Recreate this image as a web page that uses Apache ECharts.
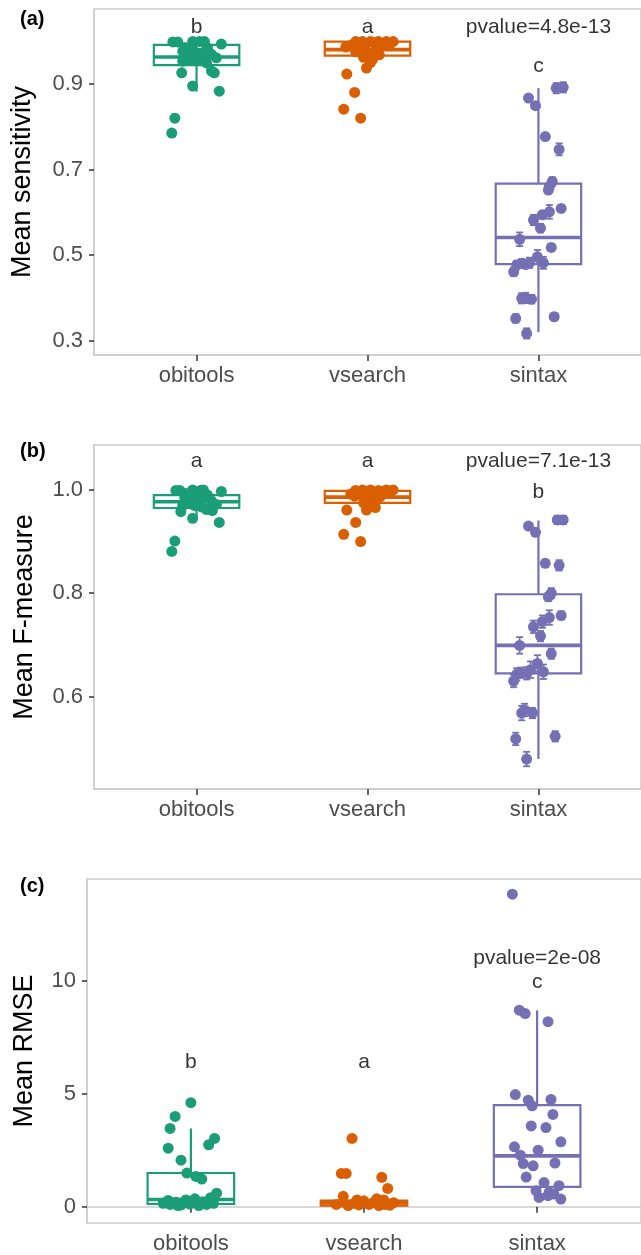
<!DOCTYPE html>
<html>
<head>
<meta charset="utf-8">
<script src="https://cdn.jsdelivr.net/npm/echarts@6/dist/echarts.min.js"></script>
<style>
html,body{margin:0;padding:0;background:#fff;}
#chart{width:641px;height:1255px;}
</style>
</head>
<body>
<div id="chart"></div>
<script>
// ---------- data ----------
const categories = ['obitools', 'vsearch', 'sintax'];
const COLORS = ['#1b9e77', '#d95f02', '#7570b3'];

// box stats: [lowerWhisker, Q1, median, Q3, upperWhisker]
const sensBox = [[0.882, 0.944, 0.963, 0.991, 1.0], [0.94, 0.966, 0.98, 0.999, 1.0], [0.320, 0.479, 0.541, 0.667, 0.890]];
const fBox = [[0.948, 0.965, 0.977, 0.990, 1.0], [0.955, 0.975, 0.986, 0.998, 1.0], [0.479, 0.645, 0.699, 0.798, 0.941]];
const rmseBox = [[0, 0.12, 0.32, 1.49, 3.46], [0, 0.05, 0.17, 0.27, 0.5], [0.34, 0.88, 2.25, 4.49, 8.68]];

// points: [jitter offset, value, error half-width]
const sensObitools = [[-0.139,0.998,0.004],[-0.110,0.998,0.004],[-0.023,0.999,0.003],[0.017,0.999,0.003],[0.046,0.999,0.003],[0.145,0.993,0.004],[-0.081,0.976,0.005],[-0.058,0.965,0.005],[-0.023,0.980,0.005],[0.006,0.972,0.005],[0.029,0.957,0.005],[0.064,0.984,0.004],[0.087,0.969,0.005],[0.116,0.961,0.005],[0.058,0.949,0.005],[-0.087,0.926,0.006],[0.087,0.930,0.006],[0.104,0.926,0.006],[-0.023,0.895,0.006],[0.133,0.883,0.007],[-0.081,0.953,0.005],[-0.040,0.958,0.005],[-0.145,0.785,0.008],[-0.127,0.820,0.008],[-0.006,0.962,0.005],[0.046,0.975,0.005],[-0.069,0.985,0.004],[-0.012,0.955,0.005]];
const sensVsearch = [[-0.069,0.999,0.002],[-0.029,0.999,0.002],[0.017,0.999,0.002],[0.064,0.999,0.002],[0.110,0.999,0.002],[0.150,0.999,0.002],[0.040,0.996,0.003],[0.092,0.994,0.003],[-0.127,0.986,0.003],[-0.069,0.975,0.004],[-0.017,0.984,0.003],[0.006,0.970,0.004],[0.029,0.957,0.004],[0.046,0.976,0.004],[0.069,0.968,0.004],[-0.023,0.962,0.004],[-0.006,0.937,0.005],[-0.121,0.923,0.005],[-0.075,0.880,0.006],[-0.139,0.841,0.007],[-0.040,0.820,0.007],[0.127,0.990,0.003],[-0.098,0.990,0.003],[-0.046,0.991,0.003],[0.052,0.986,0.003],[0.017,0.950,0.004]];
const sensSintax = [[-0.058,0.867,0.006],[-0.017,0.849,0.006],[0.104,0.890,0.012],[0.145,0.892,0.012],[0.040,0.777,0.006],[0.121,0.747,0.014],[0.081,0.672,0.010],[0.064,0.660,0.008],[0.058,0.652,0.006],[0.133,0.609,0.006],[0.064,0.601,0.016],[0.023,0.594,0.008],[-0.029,0.582,0.012],[0.012,0.563,0.010],[-0.110,0.537,0.016],[0.075,0.518,0.008],[-0.127,0.477,0.010],[-0.098,0.481,0.010],[-0.052,0.482,0.012],[-0.006,0.496,0.016],[0.029,0.482,0.014],[-0.075,0.478,0.008],[-0.145,0.461,0.010],[-0.098,0.399,0.012],[-0.040,0.397,0.010],[-0.075,0.400,0.012],[-0.133,0.352,0.010],[0.092,0.356,0.008],[-0.069,0.317,0.012]];

const fObitools = [[-0.145,0.881,0.005],[-0.127,0.901,0.005],[-0.023,0.945,0.004],[0.133,0.937,0.004],[-0.092,0.958,0.004],[0.092,0.960,0.004],[-0.121,0.999,0.002],[-0.098,0.999,0.002],[-0.023,1.0,0.002],[0.023,0.999,0.002],[0.040,1.0,0.002],[0.145,0.997,0.002],[-0.069,0.985,0.003],[-0.052,0.975,0.003],[-0.023,0.988,0.003],[0.006,0.978,0.003],[0.029,0.967,0.003],[0.064,0.990,0.003],[0.087,0.979,0.003],[0.116,0.972,0.003],[0.058,0.962,0.003],[-0.081,0.970,0.003],[-0.040,0.981,0.003],[-0.006,0.992,0.003],[0.046,0.984,0.003],[-0.064,0.993,0.003],[-0.012,0.970,0.003]];
const fVsearch = [[-0.121,0.961,0.003],[-0.006,0.961,0.003],[-0.069,0.937,0.004],[-0.139,0.914,0.004],[-0.040,0.900,0.004],[0.046,0.966,0.003],[-0.069,0.999,0.002],[-0.029,1.0,0.002],[0.017,1.0,0.002],[0.064,0.999,0.002],[0.110,1.0,0.002],[0.150,1.0,0.002],[-0.098,0.992,0.002],[-0.052,0.994,0.002],[-0.017,0.985,0.002],[0.006,0.978,0.002],[0.029,0.990,0.002],[0.058,0.982,0.002],[0.087,0.995,0.002],[0.127,0.993,0.002],[0.040,0.972,0.003],[-0.023,0.975,0.003],[-0.075,0.988,0.002],[0.075,0.987,0.002],[0.0,0.969,0.003]];
const fSintax = [[-0.058,0.930,0.006],[-0.017,0.918,0.006],[0.110,0.942,0.008],[0.145,0.942,0.008],[0.040,0.858,0.006],[0.121,0.854,0.010],[0.075,0.800,0.010],[0.058,0.793,0.008],[0.133,0.757,0.008],[0.064,0.753,0.014],[0.023,0.745,0.012],[-0.029,0.735,0.012],[0.012,0.717,0.010],[-0.110,0.699,0.016],[0.075,0.683,0.010],[-0.127,0.643,0.012],[-0.104,0.646,0.010],[-0.069,0.645,0.012],[-0.046,0.652,0.016],[-0.006,0.664,0.016],[0.029,0.648,0.014],[-0.145,0.630,0.012],[-0.098,0.568,0.014],[-0.081,0.574,0.012],[-0.035,0.568,0.010],[-0.133,0.518,0.012],[0.098,0.523,0.010],[-0.069,0.479,0.014]];

const rmseObitools = [[0.0,4.60],[-0.091,3.99],[-0.120,3.46],[0.137,3.02],[0.103,2.74],[-0.131,2.59],[-0.057,2.06],[-0.023,1.49],[0.029,1.34],[0.063,1.22],[0.149,0.60],[-0.160,0.15],[-0.120,0.10],[-0.086,0.20],[-0.057,0.08],[-0.029,0.30],[-0.006,0.12],[0.023,0.35],[0.046,0.05],[0.069,0.22],[0.091,0.10],[0.114,0.40],[0.131,0.15],[-0.074,0.05],[0.011,0.20],[-0.131,0.28]];
const rmseVsearch = [[-0.069,3.02],[-0.131,1.47],[-0.103,1.47],[0.103,1.30],[0.137,0.81],[-0.120,0.46],[-0.160,0.10],[-0.120,0.20],[-0.091,0.05],[-0.057,0.15],[-0.029,0.08],[0.0,0.25],[0.029,0.10],[0.057,0.20],[0.086,0.05],[0.114,0.30],[0.143,0.12],[0.171,0.18],[0.150,0.07],[0.120,0.10],[-0.040,0.30],[0.074,0.35]];
const rmseSintax = [[-0.143,13.82],[-0.103,8.69],[-0.069,8.54],[0.063,8.18],[-0.126,4.96],[-0.051,4.71],[-0.029,4.46],[0.080,4.74],[0.091,4.08],[-0.034,3.57],[0.051,3.50],[0.137,2.87],[-0.131,2.65],[0.006,2.50],[-0.097,2.28],[-0.080,1.91],[-0.023,1.81],[0.103,1.93],[-0.063,1.31],[0.040,1.07],[0.126,0.93],[-0.006,0.71],[0.069,0.63],[0.011,0.41],[0.137,0.34],[0.097,0.56],[0.063,0.49]];

// annotation labels: [category position, value, text]
const annSens = [[1, 1.033, 'b'], [2, 1.033, 'a'], [3, 1.033, 'pvalue=4.8e-13'], [3, 0.942, 'c']];
const annF = [[1, 1.056, 'a'], [2, 1.056, 'a'], [3, 1.056, 'pvalue=7.1e-13'], [3, 0.996, 'b']];
const annRmse = [[1, 6.38, 'b'], [2, 6.38, 'a'], [3, 10.97, 'pvalue=2e-08'], [3, 9.91, 'c']];

const ticksSens = [0.3, 0.5, 0.7, 0.9];
const ticksF = [0.6, 0.8, 1.0];
const ticksRmse = [0, 5, 10];

// ---------- chart ----------
const FONT = '"Liberation Sans", Arial, sans-serif';
const BOX_WIDTH = 0.5;

function boxRender(params, api) {
  const x = api.value(0);
  const c = COLORS[x - 1];
  const p = [1, 2, 3, 4, 5].map(i => api.coord([x, api.value(i)]));
  const hw = api.size([BOX_WIDTH, 0])[0] / 2;
  const cx = p[0][0];
  const st = { stroke: c, fill: null, lineWidth: 2.2 };
  return {
    type: 'group',
    children: [
      { type: 'line', shape: { x1: cx, y1: p[4][1], x2: cx, y2: p[3][1] }, style: st },
      { type: 'line', shape: { x1: cx, y1: p[1][1], x2: cx, y2: p[0][1] }, style: st },
      { type: 'rect', shape: { x: cx - hw, y: p[3][1], width: 2 * hw, height: p[1][1] - p[3][1] }, style: { stroke: c, fill: '#fff', lineWidth: 2.2 } },
      { type: 'line', shape: { x1: cx - hw, y1: p[2][1], x2: cx + hw, y2: p[2][1] }, style: { stroke: c, lineWidth: 3.6 } }
    ]
  };
}

function errRender(params, api) {
  const x = api.value(0);
  const c = COLORS[api.value(3)];
  const lo = api.coord([x, api.value(1)]);
  const hi = api.coord([x, api.value(2)]);
  const cw = 3.5;
  const st = { stroke: c, lineWidth: 1.8 };
  return {
    type: 'group',
    children: [
      { type: 'line', shape: { x1: lo[0], y1: lo[1], x2: hi[0], y2: hi[1] }, style: st },
      { type: 'line', shape: { x1: lo[0] - cw, y1: lo[1], x2: lo[0] + cw, y2: lo[1] }, style: st },
      { type: 'line', shape: { x1: hi[0] - cw, y1: hi[1], x2: hi[0] + cw, y2: hi[1] }, style: st }
    ]
  };
}

const panels = [
  { grid: { left: 94, top: 9, right: -7, height: 346 }, min: 0.2666, max: 1.075, ticks: ticksSens, dec: 1,
    name: 'Mean sensitivity', nameGap: 58, box: sensBox, groups: [sensObitools, sensVsearch, sensSintax], ann: annSens, err: true, label: '(a)', labelY: 20 },
  { grid: { left: 94, top: 445, right: -7, height: 344 }, min: 0.421, max: 1.087, ticks: ticksF, dec: 1,
    name: 'Mean F-measure', nameGap: 56, box: fBox, groups: [fObitools, fVsearch, fSintax], ann: annF, err: true, label: '(b)', labelY: 452 },
  { grid: { left: 87, top: 879, right: -6, height: 345 }, min: -0.72, max: 14.49, ticks: ticksRmse, dec: 0,
    name: 'Mean RMSE', nameGap: 49, box: rmseBox, groups: [rmseObitools, rmseVsearch, rmseSintax], ann: annRmse, err: false, label: '(c)', labelY: 887 }
];

const option = {
  animation: false,
  backgroundColor: '#fff',
  textStyle: { fontFamily: FONT },
  grid: [], xAxis: [], yAxis: [], series: [], graphic: []
};

const catPos = [1, 2, 3];

panels.forEach((pn, k) => {
  option.grid.push(Object.assign({ show: true, borderColor: '#cccccc', borderWidth: 1.5, backgroundColor: 'transparent' }, pn.grid));
  option.xAxis.push({
    type: 'value', gridIndex: k, min: 0.4, max: 3.6,
    axisLine: { show: true, lineStyle: { color: '#cccccc', width: 1.5 } },
    axisTick: { show: true, customValues: catPos, length: 6, lineStyle: { color: '#333', width: 1.5 } },
    axisLabel: { show: true, customValues: catPos, formatter: v => categories[Math.round(v) - 1] || '', fontSize: 22, color: '#4d4d4d', margin: 10, fontFamily: FONT },
    splitLine: { show: false }
  });
  option.yAxis.push({
    type: 'value', gridIndex: k, min: pn.min, max: pn.max,
    name: pn.name, nameLocation: 'middle', nameGap: pn.nameGap,
    nameTextStyle: { fontSize: 27, color: '#000', fontFamily: FONT },
    axisLine: { show: true, lineStyle: { color: '#cccccc', width: 1.5 } },
    axisTick: { show: true, customValues: pn.ticks, length: 5, lineStyle: { color: '#333', width: 1.5 } },
    axisLabel: { show: true, customValues: pn.ticks, formatter: v => Number(v).toFixed(pn.dec), fontSize: 22, color: '#4d4d4d', margin: 11, fontFamily: FONT },
    splitLine: { show: false }
  });
  // boxes
  option.series.push({
    type: 'custom', xAxisIndex: k, yAxisIndex: k, z: 1,
    renderItem: boxRender,
    encode: { x: 0, y: [1, 2, 3, 4, 5] },
    data: pn.box.map((b, i) => [i + 1].concat(b))
  });
  // error bars
  if (pn.err) {
    const errData = [];
    pn.groups.forEach((g, gi) => g.forEach(d => errData.push([gi + 1 + d[0], d[1] - d[2], Math.min(d[1] + d[2], 1.0005), gi])));
    option.series.push({
      type: 'custom', xAxisIndex: k, yAxisIndex: k, z: 3,
      renderItem: errRender,
      encode: { x: 0, y: [1, 2] },
      data: errData
    });
  }
  // points
  pn.groups.forEach((g, gi) => {
    option.series.push({
      type: 'scatter', xAxisIndex: k, yAxisIndex: k, z: 2,
      symbol: 'circle', symbolSize: 11,
      itemStyle: { color: COLORS[gi], opacity: 1 },
      data: g.map(d => [gi + 1 + d[0], d[1]])
    });
  });
  // annotations
  option.series.push({
    type: 'scatter', xAxisIndex: k, yAxisIndex: k, z: 4, silent: true,
    symbolSize: 0,
    label: { show: true, position: 'inside', formatter: p => p.name, fontSize: 21, color: '#000', fontFamily: FONT },
    data: pn.ann.map(a => ({ name: a[2], value: [a[0], a[1]] }))
  });
  option.graphic.push({
    type: 'text', left: 20, top: pn.labelY - 11,
    style: { text: pn.label, fill: '#000', font: 'bold 20px ' + FONT }
  });
});

const chart = echarts.init(document.getElementById('chart'), null, { renderer: 'canvas' });
chart.setOption(option);
</script>
</body>
</html>
